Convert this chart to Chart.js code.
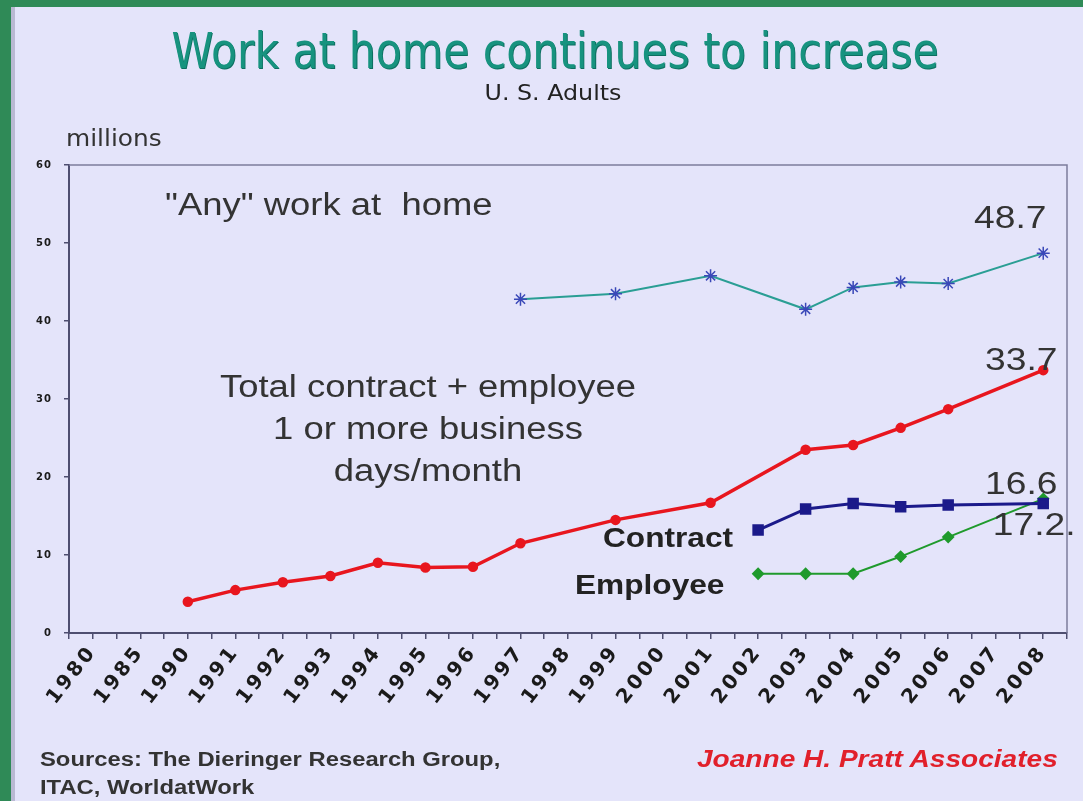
<!DOCTYPE html>
<html>
<head>
<meta charset="utf-8">
<script src="https://cdn.jsdelivr.net/npm/chart.js@4"></script>
<style>
  body { margin: 0; width: 1083px; height: 801px; overflow: hidden; background: #2f8a57; position: relative; }
  #panel { position: absolute; left: 11px; top: 7px; width: 1072px; height: 794px; background: #e4e4fa; border-left: 4px solid #b9b9d2; box-sizing: border-box; }
  canvas { position: absolute; left: 0; top: 0; }
  .t { position: absolute; white-space: nowrap; transform-origin: left top; }
  #title { left: 555px; top: 22px; transform: translateX(-50%) scaleX(0.85); transform-origin: center top; font: 50px "DejaVu Sans", sans-serif; color: #17937f; text-shadow: 1px 1px 0 #0d6e60; }
  #sub { left: 553px; top: 80px; transform: translateX(-50%) scaleX(1.08); transform-origin: center top; font: 22px "DejaVu Sans", sans-serif; color: #222; }
  #units { left: 66px; top: 125px; transform: scaleX(1.08); font: 23px "DejaVu Sans", sans-serif; color: #333; }
  .note { font: 31px "Liberation Sans", Arial, sans-serif; color: #333; text-align: center; transform: scaleX(1.175); }
  .lab { font: bold 28px "Liberation Sans", Arial, sans-serif; color: #222; transform: scaleX(1.13); }
  #src { left: 40px; top: 745px; font: bold 20px "Liberation Sans", Arial, sans-serif; color: #333; line-height: 28px; transform: scaleX(1.19); }
  #credit { left: 697px; top: 746px; font: italic bold 23px "Liberation Sans", Arial, sans-serif; color: #e1202b; transform: scaleX(1.22); }
</style>
</head>
<body>
<div id="panel"></div>
<canvas id="grafico" width="1083" height="801"></canvas>
<div class="t" id="title">Work at home continues to increase</div>
<div class="t" id="sub">U. S. Adults</div>
<div class="t" id="units">millions</div>
<div class="t note" style="left:165px; top:187px;">"Any" work at&nbsp; home</div>
<div class="t note" style="left:428px; top:366px; transform:translateX(-50%) scaleX(1.175); transform-origin:center top; line-height:42px;">Total contract + employee<br>1 or more business<br>days/month</div>
<div class="t lab" style="left:603px; top:522px;">Contract</div>
<div class="t lab" style="left:575px; top:569px;">Employee</div>
<div class="t" id="src">Sources: The Dieringer Research Group,<br>ITAC, WorldatWork</div>
<div class="t" id="credit">Joanne H. Pratt Associates</div>
<script>
const anos = ['1980', '1985', '1990', '1991', '1992', '1993', '1994', '1995', '1996', '1997', '1998',
  '1999', '2000', '2001', '2002', '2003', '2004', '2005', '2006', '2007', '2008'];

const qualquer = [null, null, null, null, null, null, null, null, null, 42.8, null,
  43.5, null, 45.8, null, 41.5, 44.3, 45.0, 44.8, null, 48.7];
const total = [null, null, 4.0, 5.5, 6.5, 7.3, 9.0, 8.4, 8.5, 11.5, null,
  14.5, null, 16.7, null, 23.5, 24.1, 26.3, 28.7, null, 33.7];
const contrato = [null, null, null, null, null, null, null, null, null, null, null,
  null, null, null, 13.2, 15.9, 16.6, 16.2, 16.4, null, 16.6];
const empregado = [null, null, null, null, null, null, null, null, null, null, null,
  null, null, null, 7.6, 7.6, 7.6, 9.8, 12.3, null, 17.2];

const rotulosFinais = ['16.6', '17.2.', '33.7', '48.7'];
const yTicks = [0, 10, 20, 30, 40, 50, 60];

function pontos(valores) {
  return valores.map((v, i) => ({ x: i, y: v })).filter(p => p.y !== null);
}

// spread out the tick labels a bit (the original looks stretched)
function espacar(scale, px) {
  if (scale._espacado) return;
  const orig = scale.drawLabels.bind(scale);
  scale.drawLabels = function (area) {
    this.ctx.letterSpacing = px;
    orig(area);
    this.ctx.letterSpacing = '0px';
  };
  scale._espacado = true;
}

// frame around plot + end labels
const extras = {
  id: 'extras',
  beforeDraw(chart) {
    espacar(chart.scales.x, '3px');
    espacar(chart.scales.y, '1px');
  },
  afterDraw(chart) {
    const { ctx, chartArea: a } = chart;
    ctx.save();
    ctx.strokeStyle = '#7c7c9c';
    ctx.lineWidth = 1.5;
    ctx.beginPath();
    ctx.moveTo(a.left, a.top);
    ctx.lineTo(a.right, a.top);
    ctx.lineTo(a.right, a.bottom);
    ctx.stroke();

    const desloc = [[-22, -10], [-9, 36], [-22, 0], [-33, -25]];
    ctx.font = '31px "Liberation Sans", Arial, sans-serif';
    ctx.fillStyle = '#333';
    ctx.textAlign = 'center';
    chart.data.datasets.forEach((ds, i) => {
      const meta = chart.getDatasetMeta(i);
      const ult = meta.data[meta.data.length - 1];
      ctx.save();
      ctx.translate(ult.x + desloc[i][0], ult.y + desloc[i][1]);
      ctx.scale(1.2, 1);
      ctx.fillText(rotulosFinais[i], 0, 0);
      ctx.restore();
    });
    ctx.restore();
  }
};

const ctx = document.getElementById('grafico');

new Chart(ctx, {
  type: 'line',
  data: {
    datasets: [
      {
        label: 'Contract',
        data: pontos(contrato),
        borderColor: '#1b1a8a',
        backgroundColor: '#1b1a8a',
        borderWidth: 3,
        pointStyle: 'rect',
        pointRadius: 6,
        order: 1
      },
      {
        label: 'Employee',
        data: pontos(empregado),
        borderColor: '#1f9a2c',
        backgroundColor: '#1f9a2c',
        borderWidth: 2,
        pointStyle: 'rectRot',
        pointRadius: 5,
        order: 2
      },
      {
        label: 'Total',
        data: pontos(total),
        borderColor: '#e8161e',
        backgroundColor: '#e8161e',
        borderWidth: 3.5,
        pointStyle: 'circle',
        pointRadius: 3.5,
        order: 3
      },
      {
        label: 'Any',
        data: pontos(qualquer),
        borderColor: '#2a9e94',
        backgroundColor: '#3a48b8',
        pointBorderColor: '#3a48b8',
        borderWidth: 2,
        pointStyle: 'star',
        pointRadius: 6.5,
        pointBorderWidth: 1.5,
        order: 4
      }
    ]
  },
  options: {
    responsive: false,
    animation: false,
    layout: { padding: { top: 165, right: 16, bottom: 0, left: 0 } },
    plugins: {
      legend: { display: false },
      tooltip: { enabled: false }
    },
    elements: { line: { tension: 0 } },
    scales: {
      x: {
        type: 'linear',
        min: -0.5,
        max: 20.5,
        afterFit: s => { s.height = 168; s.paddingLeft = 0; s.paddingRight = 0; },
        border: { color: '#4e4e70', width: 2 },
        grid: { drawOnChartArea: false, tickLength: 6, color: '#4e4e70', lineWidth: 1.5 },
        ticks: {
          stepSize: 0.5,
          autoSkip: false,
          minRotation: 52,
          maxRotation: 52,
          padding: 2,
          color: '#1a1a1a',
          font: { family: '"DejaVu Sans", sans-serif', size: 20, weight: 'bold' },
          callback: v => Number.isInteger(v) ? anos[v] : ''
        }
      },
      y: {
        min: 0,
        max: 60,
        afterFit: s => { s.width = 69; },
        afterBuildTicks: s => { s.ticks = yTicks.map(v => ({ value: v })); },
        border: { color: '#4e4e70', width: 2 },
        grid: { drawOnChartArea: false, tickLength: 5, color: '#4e4e70', lineWidth: 1.5 },
        ticks: {
          padding: 12,
          color: '#1a1a1a',
          font: { family: '"DejaVu Sans", sans-serif', size: 10, weight: 'bold' }
        }
      }
    }
  },
  plugins: [extras]
});
</script>
</body>
</html>
